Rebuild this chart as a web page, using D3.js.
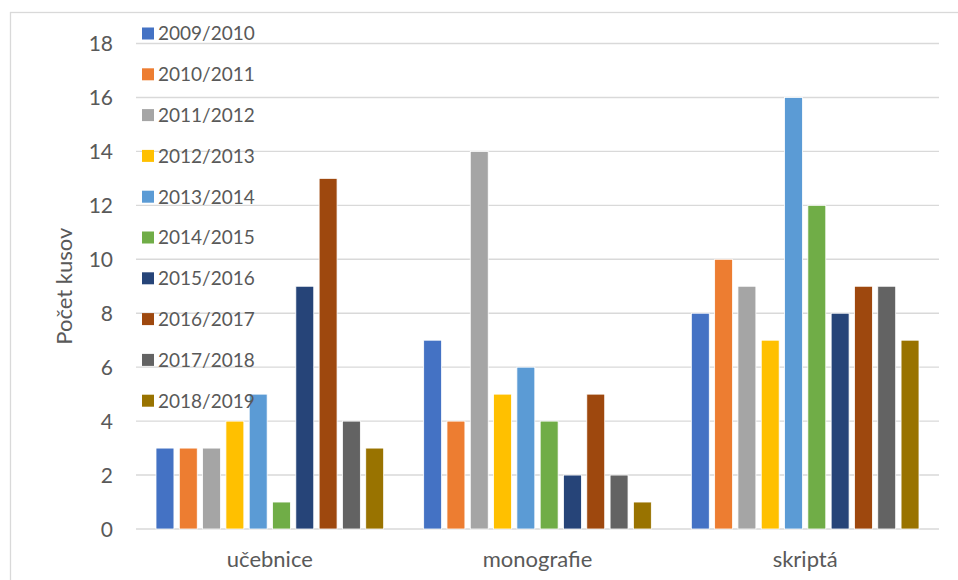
<!DOCTYPE html>
<html>
<head>
<meta charset="utf-8">
<script src="https://cdn.jsdelivr.net/npm/d3@7"></script>
<style>
  body { margin: 0; background: #fff; }
  svg { display: block; }
</style>
</head>
<body>
<svg id="chart"></svg>
<script>
// chart data
var categories = ["učebnice", "monografie", "skriptá"];
var seasons = ["2009/2010", "2010/2011", "2011/2012", "2012/2013", "2013/2014",
               "2014/2015", "2015/2016", "2016/2017", "2017/2018", "2018/2019"];
var ucebnice   = [3, 3, 3, 4, 5, 1, 9, 13, 4, 3];
var monografie = [7, 4, 14, 5, 6, 4, 2, 5, 2, 1];
var skripta    = [8, 10, 9, 7, 16, 12, 8, 9, 9, 7];
var yTicks = [0, 2, 4, 6, 8, 10, 12, 14, 16, 18];
var colors = ["#4472C4", "#ED7D31", "#A5A5A5", "#FFC000", "#5B9BD5",
              "#70AD47", "#264478", "#9E480E", "#636363", "#997300"];

var values = [ucebnice, monografie, skripta];

var width = 958, height = 580;
var plotLeft = 136, plotRight = 939, plotTop = 43.5, plotBottom = 529;
var font = "Lato, 'Open Sans', sans-serif";

var svg = d3.select("#chart")
    .attr("width", width)
    .attr("height", height);

svg.append("rect")
    .attr("width", width).attr("height", height)
    .attr("fill", "#fff");

// outer chart border (only left & top visible)
svg.append("rect")
    .attr("x", 10.5).attr("y", 12.5)
    .attr("width", 1000).attr("height", 1000)
    .attr("fill", "none")
    .attr("stroke", "#D9D9D9")
    .attr("stroke-width", 1.3);

var y = d3.scaleLinear().domain([0, 18]).range([plotBottom, plotTop]);
var x0 = d3.scaleBand().domain(categories).range([plotLeft, plotRight]).padding(0);
var inner = 20;
var x1 = d3.scaleBand().domain(seasons)
    .range([inner, x0.bandwidth() - inner])
    .paddingInner(0.23).paddingOuter(0);

// gridlines
svg.append("g").selectAll("line")
    .data(yTicks)
    .join("line")
    .attr("x1", plotLeft).attr("x2", plotRight)
    .attr("y1", d => y(d)).attr("y2", d => y(d))
    .attr("stroke", "#D9D9D9")
    .attr("stroke-width", 1.4);

// y tick labels
svg.append("g").selectAll("text")
    .data(yTicks)
    .join("text")
    .attr("x", 113)
    .attr("y", d => y(d))
    .attr("dy", "0.36em")
    .attr("text-anchor", "end")
    .attr("font-family", font)
    .attr("font-size", "21px")
    .attr("fill", "#595959")
    .text(d => d);

// bars
var groups = svg.append("g").selectAll("g")
    .data(categories)
    .join("g")
    .attr("transform", d => "translate(" + x0(d) + ",0)");

groups.selectAll("rect")
    .data((d, ci) => seasons.map((s, si) => ({ s: s, si: si, v: values[ci][si] })))
    .join("rect")
    .attr("x", d => x1(d.s))
    .attr("y", d => y(d.v))
    .attr("width", x1.bandwidth())
    .attr("height", d => y(0) - y(d.v))
    .attr("fill", d => colors[d.si])
    .attr("stroke", "#fff")
    .attr("stroke-width", 0.8);

// category labels
svg.append("g").selectAll("text")
    .data(categories)
    .join("text")
    .attr("x", d => x0(d) + x0.bandwidth() / 2)
    .attr("y", 567)
    .attr("text-anchor", "middle")
    .attr("font-family", font)
    .attr("font-size", "22px")
    .attr("fill", "#595959")
    .text(d => d);

// y axis title
svg.append("text")
    .attr("transform", "translate(72," + ((plotTop + plotBottom) / 2) + ") rotate(-90)")
    .attr("text-anchor", "middle")
    .attr("font-family", font)
    .attr("font-size", "22px")
    .attr("fill", "#595959")
    .text("Počet kusov");

// legend
var legend = svg.append("g").selectAll("g")
    .data(seasons)
    .join("g")
    .attr("transform", (d, i) => "translate(142," + (33.5 + i * 40.8) + ")");

legend.append("rect")
    .attr("x", 0).attr("y", -6)
    .attr("width", 12).attr("height", 12)
    .attr("fill", (d, i) => colors[i]);

legend.append("text")
    .attr("x", 16)
    .attr("y", 0)
    .attr("dy", "0.36em")
    .attr("font-family", font)
    .attr("font-size", "19px")
    .attr("fill", "#595959")
    .text(d => d);
</script>
</body>
</html>
